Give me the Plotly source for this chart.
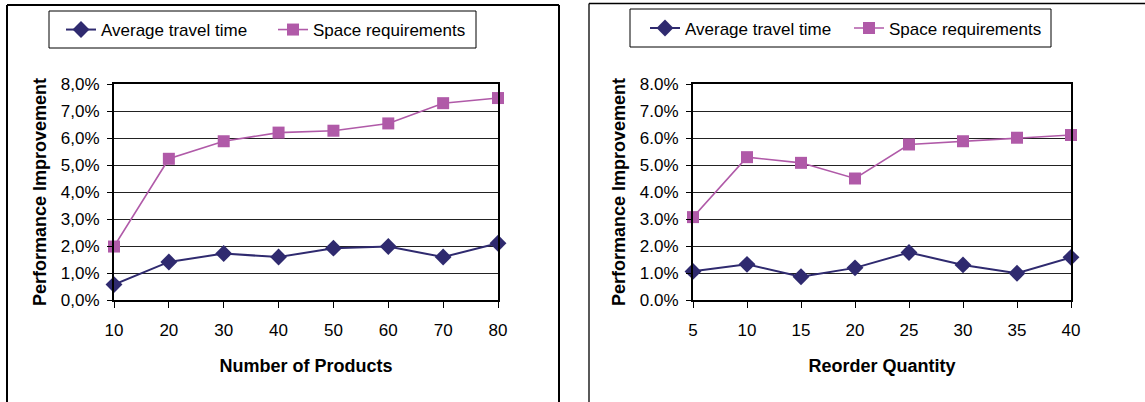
import plotly.graph_objects as go

W, H = 1145, 402

# Left panel: varying the number of products
products = [10, 20, 30, 40, 50, 60, 70, 80]
products_travel = [0.57, 1.41, 1.72, 1.59, 1.92, 1.98, 1.59, 2.10]
products_space = [1.98, 5.23, 5.88, 6.20, 6.27, 6.54, 7.29, 7.48]

# Right panel: varying the reorder quantity
reorder = [5, 10, 15, 20, 25, 30, 35, 40]
reorder_travel = [1.06, 1.32, 0.86, 1.19, 1.76, 1.30, 0.99, 1.58]
reorder_space = [3.07, 5.29, 5.08, 4.50, 5.76, 5.88, 6.01, 6.11]

y_ticks = [0, 1, 2, 3, 4, 5, 6, 7, 8]
y_labels_comma = ["0,0%", "1,0%", "2,0%", "3,0%", "4,0%", "5,0%", "6,0%", "7,0%", "8,0%"]
y_labels_dot = ["0.0%", "1.0%", "2.0%", "3.0%", "4.0%", "5.0%", "6.0%", "7.0%", "8.0%"]

NAVY = "#2F2A6F"
PLUM = "#B05AA8"
FONT = "Liberation Sans, Arial, sans-serif"


def px(x):
    return x / W


def py(y):
    return 1 - y / H


fig = go.Figure()


def add_series(x, travel, space, xa, ya, legend):
    fig.add_trace(go.Scatter(
        x=x, y=travel, xaxis=xa, yaxis=ya, mode="lines+markers",
        name="Average travel time", legend=legend, cliponaxis=False,
        line=dict(color=NAVY, width=2),
        marker=dict(symbol="diamond", size=13, color=NAVY),
    ))
    fig.add_trace(go.Scatter(
        x=x, y=space, xaxis=xa, yaxis=ya, mode="lines+markers",
        name="Space requirements", legend=legend, cliponaxis=False,
        line=dict(color=PLUM, width=1.6),
        marker=dict(symbol="square", size=12, color=PLUM),
    ))


add_series(products, products_travel, products_space, "x", "y", "legend")
add_series(reorder, reorder_travel, reorder_space, "x2", "y2", "legend2")

axis_font = dict(family=FONT, size=17, color="black")
title_font = dict(family=FONT, size=18, color="black")


def xaxis(domain, vals, rng, title, anchor):
    return dict(
        domain=domain, range=rng, tickvals=vals, ticktext=[str(v) for v in vals],
        anchor=anchor, showgrid=False, zeroline=False, automargin=False,
        showline=True, linecolor="black", linewidth=2, mirror=True,
        ticks="outside", ticklen=6, tickcolor="black", tickwidth=1,
        tickfont=axis_font, ticklabelstandoff=8,
        title=dict(text="<b>" + title + "</b>", font=title_font, standoff=20),
    )


def yaxis(domain, labels, anchor):
    return dict(
        domain=domain, range=[0, 8], tickvals=y_ticks, ticktext=labels,
        anchor=anchor, showgrid=True, gridcolor="#222222", gridwidth=1,
        zeroline=False, showline=True, linecolor="black", linewidth=2, mirror=True,
        ticks="outside", ticklen=5, tickcolor="black", tickwidth=1, automargin=False,
        tickfont=axis_font, ticklabelstandoff=4,
        title=dict(text="<b>Performance Improvement</b>", font=title_font, standoff=10),
    )


y_dom = [py(300), py(84)]

legend_style = dict(
    orientation="h", xanchor="left", yanchor="middle",
    borderwidth=0, bgcolor="rgba(0,0,0,0)",
    font=dict(family=FONT, size=17, color="black"),
    entrywidthmode="pixels",
)

fig.update_layout(
    width=W, height=H, autosize=False,
    margin=dict(l=0, r=0, t=0, b=0, pad=0, autoexpand=False),
    paper_bgcolor="white", plot_bgcolor="white",
    font=dict(family=FONT, size=17, color="black"),
    xaxis=xaxis([px(114), px(498)], products, [10, 80], "Number of Products", "y"),
    yaxis=yaxis(y_dom, y_labels_comma, "x"),
    xaxis2=xaxis([px(693), px(1071)], reorder, [5, 40], "Reorder Quantity", "y2"),
    yaxis2=yaxis(y_dom, y_labels_dot, "x2"),
    legend=dict(legend_style, x=px(61), y=py(30), entrywidth=167),
    legend2=dict(legend_style, x=px(645), y=py(28.5), entrywidth=159),
    showlegend=True,
)

# Legend boxes
box = dict(type="rect", xref="paper", yref="paper", line=dict(color="black", width=1),
           fillcolor="rgba(0,0,0,0)", layer="below")
fig.add_shape(box, x0=px(49), x1=px(476), y0=py(48), y1=py(11))
fig.add_shape(box, x0=px(630), x1=px(1051), y0=py(47), y1=py(9))

# Panel frames
frame = dict(type="line", xref="paper", yref="paper", line=dict(color="black", width=2))
fig.add_shape(frame, x0=px(7), x1=px(7), y0=py(5), y1=0)
fig.add_shape(frame, x0=px(7), x1=px(559), y0=py(5), y1=py(5))
fig.add_shape(frame, x0=px(559), x1=px(559), y0=py(5), y1=0)
frame_r = dict(type="line", xref="paper", yref="paper", line=dict(color="black", width=1.3))
fig.add_shape(frame_r, x0=px(589), x1=px(589), y0=py(3.5), y1=0)
fig.add_shape(frame_r, x0=px(589), x1=1, y0=py(3.5), y1=py(3.5))

fig.write_html("out.html")
